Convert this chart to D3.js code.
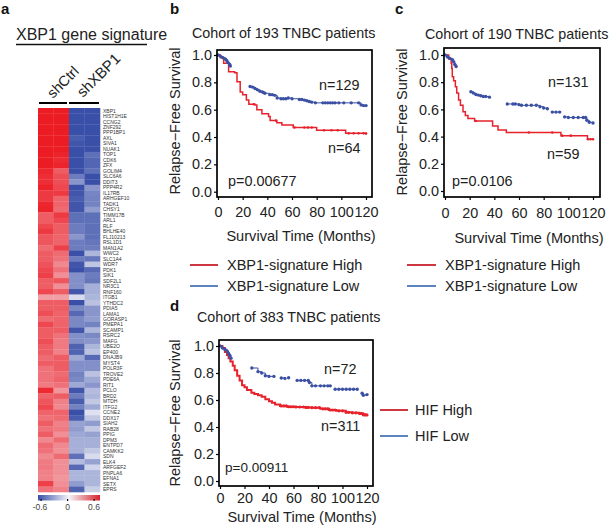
<!DOCTYPE html>
<html><head><meta charset="utf-8">
<style>html,body{margin:0;background:#fff}svg{display:block}text{font-family:"Liberation Sans",Arial,sans-serif;fill:#222}</style>
<script src="https://cdn.jsdelivr.net/npm/d3@7"></script></head><body><svg id="c" width="611" height="526"></svg>
<script>
const genes=["XBP1","HIST1H1E","CCNG2","ZNF292","PPP1BP1","AXL","SIVA1","NUAK1","TOP1","CDK6","ZFX","GOLIM4","SLC6A6","DDIT3","PPP4R2","IL17RB","ARHGEF10","TADK1","CHSY1","TIMM17B","ARL1","RLF","BHLHE40","FLJ10213","RSL1D1","MAN1A2","WWC2","SLC1A4","WDR7","PDK1","SIK1","SDF2L1","NR3C1","RNF160","ITGB1","YTHDC2","PDIA5","LAMA1","GORASP1","PMEPA1","SCAMP1","RSRC2","MAFG","UBE2O","EP400","DNAJB9","MYST4","POLR3F","TROVE2","PDE6A","RIT1","PCLO","BRD2","MTDH","ITFG2","CCNE2","DDX17","SIAH2","RAB28","PPIG","DPM3","ENTPD7","CAMKK2","SDN","ELK4","ARFGEF2","PNPLA6","EFNA1","SETX","EPRS"];
const ctrl1=[.6,.6,.6,.6,.6,.6,.6,.6,.6,.6,.6,.57,.55,.55,.58,.52,.52,.57,.58,.42,.42,.48,.52,.44,.44,.38,.42,.42,.45,.48,.5,.42,.42,.48,.24,.42,.42,.46,.38,.48,.42,.42,.46,.42,.42,.38,.42,.36,.36,.36,.34,.56,.4,.44,.48,.4,.36,.42,.36,.42,.3,.38,.36,.3,.34,.34,.32,.32,.5,.36];
const ctrl2=[.6,.6,.6,.6,.6,.6,.6,.6,.58,.56,.58,.42,.46,.46,.48,.52,.4,.4,.38,.52,.48,.42,.42,.4,.4,.5,.38,.36,.3,.36,.28,.44,.28,.42,.24,.42,.42,.4,.4,.4,.42,.36,.34,.34,.32,.42,.42,.42,.38,.4,.36,.26,.42,.32,.3,.4,.38,.32,.34,.28,.38,.3,.28,.38,.28,.28,.28,.26,.28,.32];
const xbp1a=[-.6,-.6,-.6,-.6,-.6,-.48,-.5,-.56,-.58,-.58,-.58,-.58,-.38,-.3,-.58,-.5,-.48,-.5,-.5,-.42,-.42,-.38,-.38,-.3,-.38,-.38,-.52,-.38,-.5,-.52,-.32,-.32,-.32,-.5,-.08,-.56,-.34,-.44,-.34,-.34,-.5,-.32,-.32,-.46,-.46,-.24,-.32,-.32,-.36,-.34,-.24,-.5,-.38,-.48,-.36,-.54,-.48,-.26,-.28,-.24,-.22,-.22,-.22,-.42,-.18,-.44,-.2,-.2,-.28,-.46];
const xbp1b=[-.6,-.6,-.6,-.6,-.6,-.58,-.58,-.58,-.42,-.45,-.45,-.42,-.55,-.55,-.3,-.35,-.36,-.36,-.28,-.42,-.42,-.42,-.42,-.42,-.4,-.38,-.2,-.4,-.15,-.44,-.38,-.4,-.22,-.22,-.2,-.16,-.3,-.3,-.28,-.36,-.2,-.34,-.3,-.2,-.16,-.44,-.32,-.32,-.16,-.24,-.3,-.18,-.2,-.14,-.24,-.06,-.14,-.28,-.14,-.26,-.22,-.22,-.14,-.08,-.26,-.1,-.2,-.2,-.2,-.12];
const cohortTitles=["Cohort of 193 TNBC patients","Cohort of 190 TNBC patients","Cohort of 383 TNBC patients"];
const redTB=[0,2,4.6,8.6,13.5,15.4,18,20,23,25,30,31.5,35.6,41,42.3,47.7,51.8,60,61,77.4,80,101.7,103.5,120];
const redVB=[1,.98,.94,.878,.87,.805,.73,.71,.67,.64,.635,.6,.57,.55,.52,.505,.488,.488,.47,.47,.45,.45,.427,.425];
const redCensB=[29,47,62,70,73,76,86,92,97,106,110,114,118,120];
const lowTB=[0,2,4,6,7,8,9.5,10,null,26,28,30,32,34,36,37,38,42,44,46,48,51,53,55,57,60,66,68,70,72,74,76,79,85,87,89,91,93,95,98,102,108,114,116,118,120];
const lowVB=[1,.99,.98,.97,.96,.945,.93,.92,null,.77,.765,.755,.745,.735,.73,.725,.72,.71,.71,.705,.685,.68,.68,.68,.685,.68,.675,.675,.67,.665,.66,.655,.65,.65,.65,.65,.65,.65,.65,.65,.65,.65,.65,.635,.63,.63];
const redTC=[0,3,5,5.5,5.9,7,8.4,9.5,11,12.5,14.6,16.5,18.6,24,37,38.6,43,49.7,93,94,114,115.5,120];
const redVC=[1,.97,.94,.9,.84,.81,.767,.72,.67,.63,.583,.555,.533,.515,.515,.478,.448,.43,.43,.407,.407,.38,.38];
const redCensC=[25,68,87,95,102,116,118,120];
const lowTC=[0,2,4,6,7,8,9,null,21,23,25,27,29,31,33,36,null,50.5,55,57,60,62,66,70,74,77,80,83,null,87,90,93,null,97,100,104,108,112,114,115,117,120];
const lowVC=[1,.985,.975,.965,.95,.93,.915,null,.73,.72,.71,.705,.7,.695,.695,.69,null,.64,.64,.64,.635,.63,.63,.63,.63,.62,.61,.605,null,.58,.58,.58,null,.545,.54,.54,.54,.54,.54,.52,.505,.5];
const redTD=[0,2,4,5.7,7,8.5,10.4,12,14,16,18,20,22,25.6,28,31,34,37,40,42.4,45,49,55,62,70,75,82,89,95,102.7,108,113.6,117,120];
const redVD=[1,.985,.955,.933,.91,.885,.854,.82,.78,.745,.71,.695,.675,.654,.645,.635,.625,.605,.59,.58,.567,.556,.55,.548,.545,.543,.535,.526,.52,.509,.505,.5,.49,.489];
const redCensD=[50,52,54,56,58,60,62,65,68,70,72,75,78,81,84,86,88,90,92,94,97,100,103,105,108,111,114,115,116,117,118,119,120];
const lowTD=[0,2,4,6,7,8,9,null,26,31,34,37,40,44,null,50,53,null,56,null,63,66,69,72,73,75,78,82,85,88,90,null,94,97,100,103,106,109,112,null,116,117,120];
const lowVD=[1,.985,.975,.96,.945,.93,.91,null,.837,.81,.8,.78,.775,.775,null,.763,.76,null,.765,null,.745,.745,.745,.745,.73,.705,.705,.705,.705,.705,.705,null,.68,.68,.68,.68,.68,.68,.68,null,.65,.635,.64];
const legendB=["XBP1-signature High","XBP1-signature Low"];
const legendD=["HIF High","HIF Low"];
const nLabels=[["n=129","n=64"],["n=131","n=59"],["n=72","n=311"]];
const pLabels=["p=0.00677","p=0.0106","p=0.00911"];
const xTicks=[0,20,40,60,80,100,120], yTicks=[0,.2,.4,.6,.8,1];

const svg=d3.select("#c");
const txt=(x,y,s,size,o={})=>svg.append("text").attr("x",x).attr("y",y).attr("font-size",size).attr("text-anchor",o.a||"start").attr("font-weight",o.w||null).attr("transform",o.r?`rotate(${o.r} ${x} ${y})`:null).style("fill",o.f||null).text(s);
const RED="#e8222c", BLUE="#3b50a3";
[["a",1,14],["b",170,14],["c",395,14],["d",170,311]].forEach(d=>txt(d[1],d[2],d[0],15,{w:"bold",f:"#111"}));
txt(16,40,"XBP1 gene signature",16);
svg.append("line").attr("x1",16).attr("x2",147).attr("y1",44.5).attr("y2",44.5).attr("stroke","#111").attr("stroke-width",1.6);
txt(53,99,"shCtrl",14.5,{r:-45});
txt(83,98,"shXBP1",15,{r:-45});
[[39,67],[69,99]].forEach(d=>svg.append("line").attr("x1",d[0]).attr("x2",d[1]).attr("y1",103).attr("y2",103).attr("stroke","#000").attr("stroke-width",2));
const hc=d3.scaleLinear().domain([-.52,0,.6]).range(["#3a50a8","#f4f4fa","#ec1c24"]).clamp(true);
const hx=d3.scaleBand().domain(d3.range(4)).range([38,100]);
const hy=d3.scaleBand().domain(genes).range([108,492]);
[ctrl1,ctrl2,xbp1a,xbp1b].forEach((col,i)=>{
 svg.append("g").selectAll("rect").data(col).join("rect").attr("x",hx(i)).attr("width",hx.bandwidth()+.3)
  .attr("y",(d,j)=>hy(genes[j])).attr("height",hy.bandwidth()+.3).attr("fill",d=>hc(d));
});
svg.append("g").selectAll("text").data(genes).join("text").attr("x",103).attr("y",d=>hy(d)+hy.bandwidth()/2+1.8).attr("font-size",5).style("fill","#333").text(d=>d);
const defs=svg.append("defs").append("linearGradient").attr("id","cb");
[[0,"#3a50a8"],[.5,"#f4f4fa"],[1,"#d8222c"]].forEach(s=>defs.append("stop").attr("offset",s[0]).attr("stop-color",s[1]));
svg.append("rect").attr("x",38).attr("y",495).attr("width",62).attr("height",5.5).attr("fill","url(#cb)");
const cbx=d3.scaleLinear().domain([-.6,.6]).range([41,94]);
const cbTicks=[-.6,0,.6];
svg.append("g").selectAll("rect").data(cbTicks).join("rect").attr("x",d=>cbx(d)-.5).attr("y",499).attr("width",1.2).attr("height",2).attr("fill","#111");
[["-0.6",40],["0",67.5],["0.6",94]].forEach(d=>txt(d[1],510,d[0],8.5,{a:"middle",f:"#444"}));
function km(p){
 const x=d3.scaleLinear().domain([0,120]).range([p.x0,p.x1]);
 const y=d3.scaleLinear().domain([0,1]).range([p.y0,p.y1]);
 const g=svg.append("g");
 const stepLine=d3.line().defined(d=>d[0]!=null).x(d=>x(d[0])).y(d=>y(d[1])).curve(d3.curveStepAfter);
 const red=p.rt.map((t,i)=>[t,p.rv[i]]), low=p.lt.map((t,i)=>[t,p.lv[i]]);
 g.append("path").attr("d",stepLine(red)).attr("fill","none").attr("stroke",RED).attr("stroke-width",p.rw);
 const bis=d3.bisector(d=>d[0]).right;
 g.selectAll(".rc").data(p.rc).join("circle").attr("cx",d=>x(d)).attr("cy",d=>y(red[Math.max(0,bis(red,d)-1)][1])).attr("r",p.rr).attr("fill",RED);
 g.append("path").attr("d",stepLine(low)).attr("fill","none").attr("stroke",BLUE).attr("stroke-width",1);
 g.selectAll(".lc").data(low.filter(d=>d[0]!=null)).join("circle").attr("cx",d=>x(d[0])).attr("cy",d=>y(d[1])).attr("r",1.7).attr("fill",BLUE);
 g.append("rect").attr("x",p.fx0).attr("y",p.fy0).attr("width",p.fx1-p.fx0).attr("height",p.fy1-p.fy0).attr("fill","none").attr("stroke","#000").attr("stroke-width",1.7);
 const ax=svg.append("g").attr("transform",`translate(0,${p.fy1})`).call(d3.axisBottom(x).tickValues(xTicks).tickFormat(d3.format("d")).tickSize(3).tickSizeOuter(0).tickPadding(p.xp));
 const ay=svg.append("g").attr("transform",`translate(${p.fx0},0)`).call(d3.axisLeft(y).tickValues(yTicks).tickFormat(d3.format(".1f")).tickSize(3).tickSizeOuter(0).tickPadding(2));
 [ax,ay].forEach(a=>{a.select(".domain").remove();a.selectAll("line").attr("stroke","#000").attr("stroke-width",1.2);a.selectAll("text").attr("font-size",14.4).style("font-family",'"Liberation Sans",Arial,sans-serif').style("fill","#222");});
 txt(p.tx,p.ty,p.title,14.3);
 txt(p.ylx,p.yly,"Relapse\u2212Free Survival",14.5,{a:"middle",r:-90});
 txt(p.xlx,p.xly,"Survival Time (Months)",14.6,{a:"middle"});
 txt(p.px,p.py,p.p,p.ps);
 txt(p.n1[0],p.n1[1],p.n[0],14.4); txt(p.n2[0],p.n2[1],p.n[1],14.4);
 p.leg.forEach((s,i)=>{
  const ly=p.ly[i];
  svg.append("line").attr("x1",p.lx0).attr("x2",p.lx1).attr("y1",ly).attr("y2",ly).attr("stroke",i?"#4a76b8":"#c9202c").attr("stroke-width",1.8);
  txt(p.ltx,ly+5,s,14.5);
 });
}
km({x0:218,x1:366,y0:191.7,y1:55,fx0:217,fx1:372,fy0:50,fy1:197,xp:7,rw:1.5,rr:1.3,title:cohortTitles[0],tx:192,ty:38,ylx:180,yly:121,xlx:301,xly:241,px:228,py:186,ps:14.4,p:pLabels[0],n:nLabels[0],n1:[319,90],n2:[328,153],rt:redTB,rv:redVB,rc:redCensB,lt:lowTB,lv:lowVB,leg:legendB,ly:[265,286],lx0:190,lx1:218,ltx:227});
km({x0:445,x1:593,y0:191,y1:55,fx0:444,fx1:600,fy0:48,fy1:197,xp:8,rw:1.5,rr:1.3,title:cohortTitles[1],tx:425,ty:39,ylx:407,yly:122,xlx:529,xly:243,px:452,py:186,ps:14.4,p:pLabels[1],n:nLabels[1],n1:[548,87],n2:[547,159],rt:redTC,rv:redVC,rc:redCensC,lt:lowTC,lv:lowVC,leg:legendB,ly:[265,286],lx0:407,lx1:436,ltx:445});
km({x0:220,x1:367,y0:481,y1:346,fx0:219,fx1:373,fy0:340,fy1:486,xp:4,rw:2,rr:1.6,title:cohortTitles[2],tx:197,ty:322,ylx:180,yly:413,xlx:302,xly:522,px:225,py:472,ps:13.5,p:pLabels[2],n:nLabels[2],n1:[324,374],n2:[321,431],rt:redTD,rv:redVD,rc:redCensD,lt:lowTD,lv:lowVD,leg:legendD,ly:[410,436],lx0:380,lx1:408,ltx:415});
</script></body></html>
